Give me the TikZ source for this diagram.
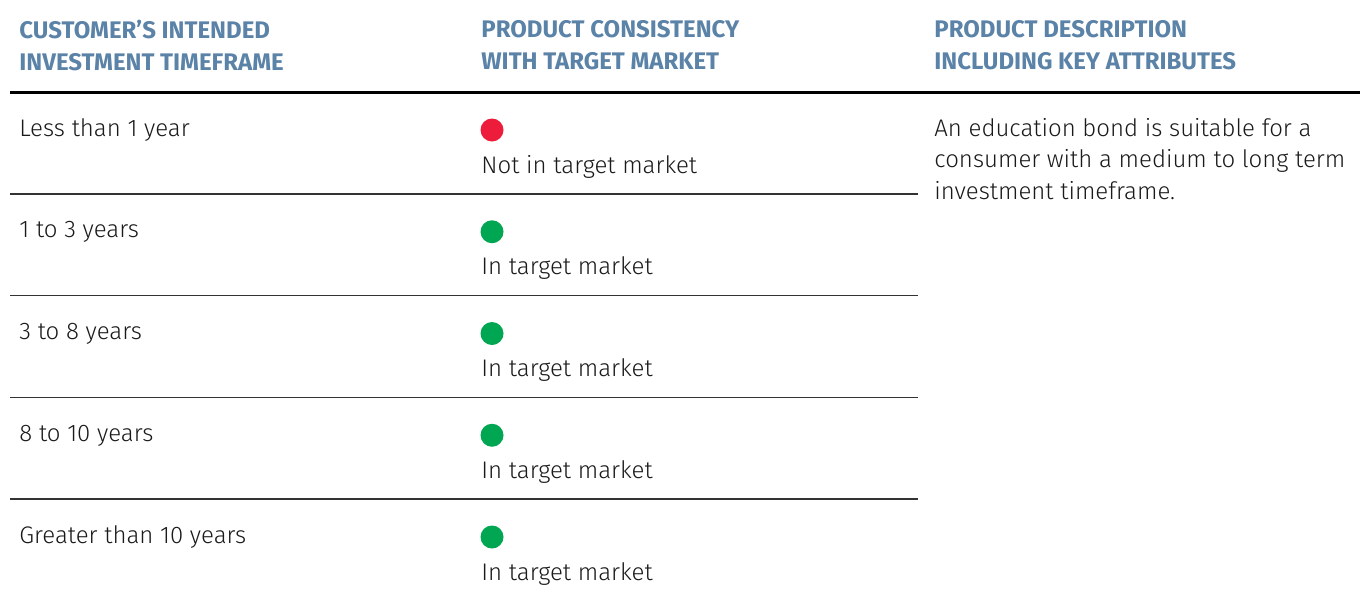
\documentclass[tikz,border=0pt]{standalone}
\usepackage{fontspec}
\setmainfont{Fira Sans Light}
\newfontfamily\headfont{Fira Sans Bold}
\definecolor{headblue}{RGB}{91,131,168}
\definecolor{okgreen}{RGB}{0,166,81}
\definecolor{nored}{RGB}{237,28,58}
\definecolor{bodyink}{RGB}{26,26,26}

\begin{document}
\begin{tikzpicture}[x=0.5pt,y=-0.5pt,
	headtxt/.style={anchor=north west,inner sep=0pt,align=left,text=headblue,font=\headfont\fontsize{12}{16}\selectfont},
	celltxt/.style={anchor=base west,inner sep=0pt,text=bodyink,font=\fontsize{12}{15.75}\selectfont},
	okdot/.style={circle,fill=okgreen,minimum size=11.5pt,inner sep=0pt},
	nodot/.style={circle,fill=nored,minimum size=11.5pt,inner sep=0pt},
	rowline/.style={line width=0.75pt,draw=black!80}]
			\useasboundingbox (0,0) rectangle (1360,595);
			%column heads
			\node[headtxt] (headtime) at (19,20) {CUSTOMER’S INTENDED\\INVESTMENT TIMEFRAME};
			\node[headtxt] (headfit) at (481,20) {PRODUCT CONSISTENCY\\WITH TARGET MARKET};
			\node[headtxt] (headdesc) at (934,20) {PRODUCT DESCRIPTION\\INCLUDING KEY ATTRIBUTES};
			\draw[line width=1.5pt] (10,92) -- (1360,92);
			%rows
			\foreach \t/\c/\l [count=\i from 0] in {Less than 1 year/nodot/Not in target market,1 to 3 years/okdot/In target market,3 to 8 years/okdot/In target market,8 to 10 years/okdot/In target market,Greater than 10 years/okdot/In target market}{
				\node[celltxt] (time\i) at (19,136+101.75*\i) {\t};
				\node[\c] (dot\i) at (492,130+101.75*\i) {};
				\node[celltxt] (fit\i) at (481,173+101.75*\i) {\l};
			}
			\foreach \i in {1,...,4}
				\draw[rowline] (10,92+101.75*\i) -- (918,92+101.75*\i);
			%description
			\node[celltxt] (desc1) at (934,136) {An education bond is suitable for a};
			\node[celltxt] (desc2) at (934,167.5) {consumer with a medium to long term};
			\node[celltxt] (desc3) at (934,199) {investment timeframe.};
		\end{tikzpicture}
\end{document}
